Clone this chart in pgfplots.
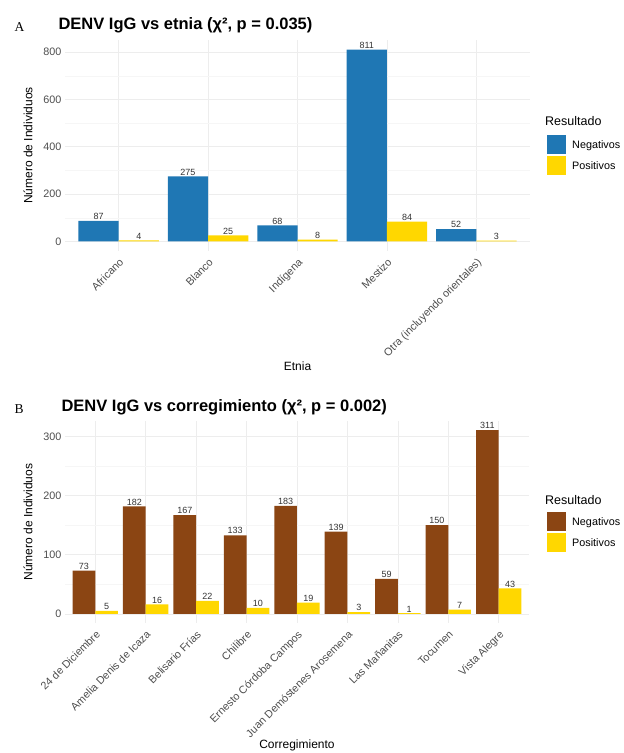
\documentclass[border=0pt]{standalone}
\usepackage{fontspec}
\setmainfont{Liberation Sans}
\newfontfamily\serifpanel{Liberation Serif}
\usepackage{pgfplots}
\pgfplotsset{compat=1.18}
\definecolor{negA}{HTML}{1F77B4}
\definecolor{posY}{HTML}{FFD700}
\definecolor{negB}{HTML}{8B4513}
\definecolor{tickgray}{HTML}{4D4D4D}
\definecolor{labgray}{HTML}{333333}
\pgfplotsset{
  panel/.style={
    scale only axis, clip=false,
    axis line style={draw=none}, tick style={draw=none},
    /pgf/number format/assume math mode=true,
    ybar=0pt, bar width=0.45,
    xmajorgrids, ymajorgrids, yminorgrids,
    major grid style={gray!14, line width=0.6pt},
    minor grid style={gray!7, line width=0.4pt},
    tick label style={font=\fontsize{10.8}{12}\selectfont, text=tickgray},
    xticklabel style={rotate=45, anchor=north east, inner sep=1.5pt},
    label style={font=\fontsize{12}{14}\selectfont},
    nodes near coords,
    every node near coord/.append style={font=\fontsize{9}{10}\selectfont, text=labgray, inner sep=1pt},
    legend image code/.code={\fill[#1,draw=none] (0pt,-10pt) rectangle (19pt,9pt); \path (25pt,0pt);},
    legend style={draw=none, fill=none, inner sep=0pt, row sep=2pt,
      font=\fontsize{10.8}{12}\selectfont, legend cell align=left,
      nodes={inner sep=0pt, text depth=0pt}},
  }
}
\begin{document}
\begin{tikzpicture}[x=1pt,y=1pt]
\useasboundingbox (0pt,0pt) rectangle (624pt,753pt);
% Panel A
\node[anchor=west, font=\serifpanel\fontsize{13.5}{15}\selectfont] at (11pt,726pt) {A};
\node[anchor=west, font=\bfseries\fontsize{16.5}{18}\selectfont] at (55pt,728pt) {DENV IgG vs etnia (χ², p = 0.035)};
\begin{axis}[panel,
  at={(65pt,502pt)}, anchor=south west, width=465pt, height=211pt,
  xmin=-0.6, xmax=4.6, ymin=-40.55, ymax=851.55,
  xtick={0,1,2,3,4},
  xticklabels={Africano, Blanco, Indígena, Mestizo, Otra (incluyendo orientales)},
  ytick={0,200,400,600,800}, minor ytick={100,300,500,700},
  xlabel={Etnia}, ylabel={Número de Individuos},
  xlabel style={at={(rel axis cs:0.5,-0.545)}, anchor=center},
  ylabel style={at={(rel axis cs:-0.0796,0.5)}, anchor=center, rotate=0},
  legend style={at={(rel axis cs:1.0366,0.55)}, anchor=north west},
]
\addplot[fill=negA, draw=none] coordinates {(0,87) (1,275) (2,68) (3,811) (4,52)};
\addplot[fill=posY, draw=none] coordinates {(0,4) (1,25) (2,8) (3,84) (4,3)};
\legend{Negativos, Positivos}
\node[anchor=west, inner sep=0pt, font=\fontsize{12.5}{14}\selectfont] at (rel axis cs:1.0323,0.616) {Resultado};
\end{axis}
% Panel B
\node[anchor=west, font=\serifpanel\fontsize{13.5}{15}\selectfont] at (11pt,344pt) {B};
\node[anchor=west, font=\bfseries\fontsize{16.5}{18}\selectfont] at (58pt,346pt) {DENV IgG vs corregimiento (χ², p = 0.002)};
\begin{axis}[panel,
  at={(65pt,130pt)}, anchor=south west, width=464pt, height=202pt,
  xmin=-0.6, xmax=8.6, ymin=-15.55, ymax=326.55,
  xtick={0,1,2,3,4,5,6,7,8},
  xticklabels={24 de Diciembre, Amelia Denis de Icaza, Belisario Frías, Chilibre, Ernesto Córdoba Campos, Juan Demóstenes Arosemena, Las Mañanitas, Tocumen, Vista Alegre},
  ytick={0,100,200,300}, minor ytick={50,150,250},
  xlabel={Corregimiento}, ylabel={Número de Individuos},
  xlabel style={at={(rel axis cs:0.5,-0.607)}, anchor=center},
  ylabel style={at={(rel axis cs:-0.0797,0.5)}, anchor=center, rotate=0},
  legend style={at={(rel axis cs:1.0388,0.5495)}, anchor=north west},
]
\addplot[fill=negB, draw=none] coordinates {(0,73) (1,182) (2,167) (3,133) (4,183) (5,139) (6,59) (7,150) (8,311)};
\addplot[fill=posY, draw=none] coordinates {(0,5) (1,16) (2,22) (3,10) (4,19) (5,3) (6,1) (7,7) (8,43)};
\legend{Negativos, Positivos}
\node[anchor=west, inner sep=0pt, font=\fontsize{12.5}{14}\selectfont] at (rel axis cs:1.0345,0.609) {Resultado};
\end{axis}
\end{tikzpicture}
\end{document}
